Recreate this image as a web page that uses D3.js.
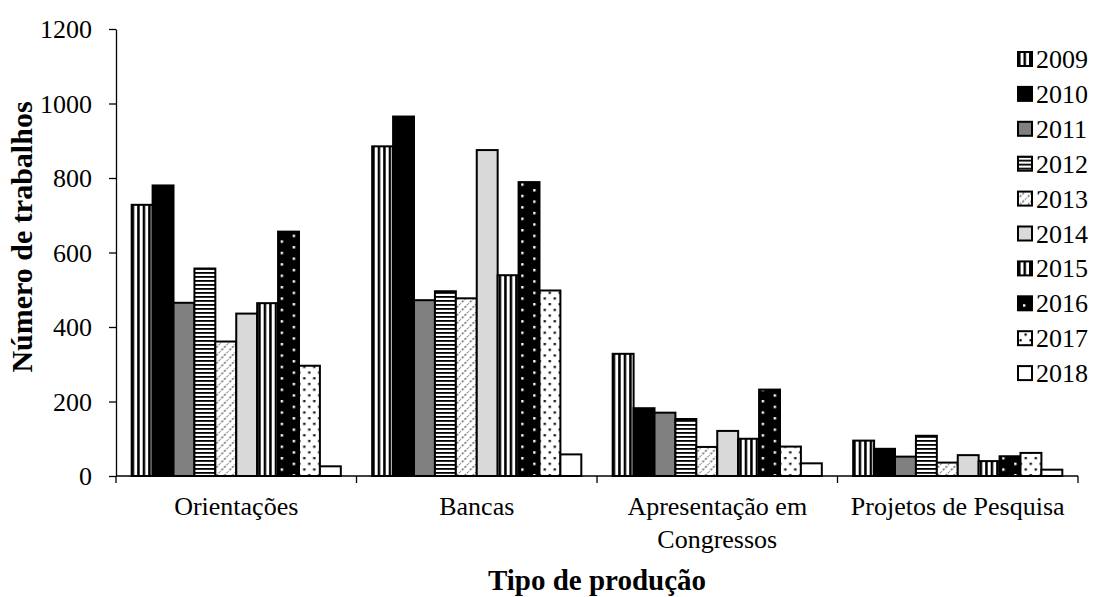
<!DOCTYPE html>
<html>
<head>
<meta charset="utf-8">
<script src="https://cdn.jsdelivr.net/npm/d3@7"></script>
<style>
  html, body { margin: 0; padding: 0; background: #fff; }
  svg { display: block; }
  text { font-family: "Liberation Serif", "Times New Roman", serif; fill: #000; }
</style>
</head>
<body>
<svg id="chart" width="1094" height="597"></svg>
<script>
// ---- data ----
const categories = ["Orientações", "Bancas", "Apresentação em Congressos", "Projetos de Pesquisa"];
const years = ["2009", "2010", "2011", "2012", "2013", "2014", "2015", "2016", "2017", "2018"];
const v2009 = [728, 885, 328, 95];
const v2010 = [780, 965, 182, 73];
const v2011 = [465, 472, 170, 52];
const v2012 = [557, 496, 153, 108];
const v2013 = [361, 477, 78, 36];
const v2014 = [436, 875, 121, 56];
const v2015 = [464, 539, 100, 40];
const v2016 = [656, 789, 232, 53];
const v2017 = [296, 498, 79, 62];
const v2018 = [26, 58, 34, 17];
const yTicks = [0, 200, 400, 600, 800, 1000, 1200];
const yTitle = "Número de trabalhos";
const xTitle = "Tipo de produção";

const seriesValues = [v2009, v2010, v2011, v2012, v2013, v2014, v2015, v2016, v2017, v2018];
const table = categories.map((c, ci) => {
  const row = { category: c };
  years.forEach((y, yi) => { row[y] = seriesValues[yi][ci]; });
  return row;
});

// ---- layout ----
const svg = d3.select("#chart");
const plot = { left: 116, right: 1078, top: 29, bottom: 476 };
const pad = 1.5 / 11.5;

const x0 = d3.scaleBand().domain(categories).range([plot.left, plot.right])
  .paddingInner(pad).paddingOuter(pad / 2);
const x1 = d3.scaleBand().domain(years).range([0, x0.bandwidth()]).padding(0);
const y = d3.scaleLinear().domain([0, 1200]).range([plot.bottom, plot.top]);

// ---- patterns ----
const defs = svg.append("defs");
function vstripe(id) {
  const p = defs.append("pattern").attr("id", id).attr("patternUnits", "userSpaceOnUse")
    .attr("width", 5.5).attr("height", 10);
  p.append("rect").attr("width", 5.5).attr("height", 10).attr("fill", "#fff");
  p.append("rect").attr("x", 0).attr("width", 2.5).attr("height", 10).attr("fill", "#000");
}
vstripe("p2009");
vstripe("p2015");
(function () {
  const p = defs.append("pattern").attr("id", "p2012").attr("patternUnits", "userSpaceOnUse")
    .attr("width", 10).attr("height", 4);
  p.append("rect").attr("width", 10).attr("height", 4).attr("fill", "#fff");
  p.append("rect").attr("y", 0).attr("width", 10).attr("height", 1.8).attr("fill", "#000");
})();
(function () {
  const p = defs.append("pattern").attr("id", "p2013").attr("patternUnits", "userSpaceOnUse")
    .attr("width", 8).attr("height", 8);
  p.append("rect").attr("width", 8).attr("height", 8).attr("fill", "#fff");
  p.append("path").attr("d", "M-1,9 L9,-1 M-5,5 L5,-5 M3,13 L13,3")
    .attr("stroke", "#7a7a7a").attr("stroke-width", 1.5).attr("stroke-dasharray", "2.4,1.4");
})();
(function () {
  const p = defs.append("pattern").attr("id", "p2016").attr("patternUnits", "userSpaceOnUse")
    .attr("width", 24).attr("height", 11.4);
  p.append("rect").attr("width", 24).attr("height", 11.4).attr("fill", "#000");
  p.append("rect").attr("x", 5).attr("y", 1).attr("width", 2.4).attr("height", 2.4).attr("fill", "#fff");
  p.append("rect").attr("x", 17).attr("y", 6.7).attr("width", 2.4).attr("height", 2.4).attr("fill", "#fff");
})();
(function () {
  const p = defs.append("pattern").attr("id", "p2017").attr("patternUnits", "userSpaceOnUse")
    .attr("width", 10).attr("height", 11.4);
  p.append("rect").attr("width", 10).attr("height", 11.4).attr("fill", "#fff");
  p.append("rect").attr("x", 1.5).attr("y", 1).attr("width", 2.2).attr("height", 2.2).attr("fill", "#000");
  p.append("rect").attr("x", 6.5).attr("y", 6.7).attr("width", 2.2).attr("height", 2.2).attr("fill", "#000");
})();

const fills = {
  "2009": "url(#p2009)", "2010": "#000", "2011": "#808080", "2012": "url(#p2012)",
  "2013": "url(#p2013)", "2014": "#d9d9d9", "2015": "url(#p2015)", "2016": "url(#p2016)",
  "2017": "url(#p2017)", "2018": "#fff"
};

// ---- bars ----
const groups = svg.append("g").selectAll("g").data(table).join("g")
  .attr("transform", d => `translate(${x0(d.category)},0)`);
groups.selectAll("rect").data(d => years.map(k => ({ key: k, value: d[k] }))).join("rect")
  .attr("x", d => x1(d.key))
  .attr("y", d => y(d.value))
  .attr("width", x1.bandwidth())
  .attr("height", d => y(0) - y(d.value))
  .attr("fill", d => fills[d.key])
  .attr("stroke", "#000").attr("stroke-width", 2);

// ---- y axis ----
const yAxis = svg.append("g").attr("transform", `translate(${plot.left},0)`)
  .call(d3.axisLeft(y).tickValues(yTicks).tickFormat(d3.format("d"))
    .tickSize(7).tickSizeOuter(0).tickPadding(17));
yAxis.attr("font-family", null).attr("font-size", null);
yAxis.select(".domain").attr("stroke", "#000").attr("stroke-width", 1.3);
yAxis.selectAll(".tick line").attr("stroke", "#000").attr("stroke-width", 1.3);
yAxis.selectAll(".tick text").style("font-size", "26px").attr("dy", "0.34em");

// ---- x axis ----
const xAxis = svg.append("g").attr("transform", `translate(0,${plot.bottom})`);
xAxis.append("line").attr("x1", plot.left).attr("x2", plot.right)
  .attr("stroke", "#000").attr("stroke-width", 1.3);
const step = x0.step();
const boundaries = categories.map(c => x0(c) - step * pad / 2).concat([x0(categories[categories.length - 1]) - step * pad / 2 + step]);
xAxis.selectAll("line.tk").data(boundaries).join("line").attr("class", "tk")
  .attr("x1", d => d).attr("x2", d => d).attr("y1", 0).attr("y2", 7)
  .attr("stroke", "#000").attr("stroke-width", 1.3);

const labels = xAxis.selectAll("text.cat").data(categories).join("text").attr("class", "cat")
  .attr("x", d => x0(d) + x0.bandwidth() / 2)
  .attr("y", 39)
  .attr("text-anchor", "middle")
  .style("font-size", "26px");
labels.each(function (d) {
  const t = d3.select(this);
  const words = d.split(" ");
  const maxW = step - 8;
  let line = [];
  let tspan = t.append("tspan").attr("x", x0(d) + x0.bandwidth() / 2).attr("dy", 0);
  words.forEach(w => {
    line.push(w);
    tspan.text(line.join(" "));
    if (tspan.node().getComputedTextLength() > maxW && line.length > 1) {
      line.pop();
      tspan.text(line.join(" "));
      line = [w];
      tspan = t.append("tspan").attr("x", x0(d) + x0.bandwidth() / 2).attr("dy", 33).text(w);
    }
  });
});

// ---- titles ----
svg.append("text")
  .attr("transform", `translate(32,237) rotate(-90)`)
  .attr("text-anchor", "middle")
  .style("font-size", "30px").style("font-weight", "bold")
  .text(yTitle);
svg.append("text")
  .attr("x", (plot.left + plot.right) / 2).attr("y", 590)
  .attr("text-anchor", "middle")
  .style("font-size", "29px").style("font-weight", "bold")
  .text(xTitle);

// ---- legend ----
const legend = svg.append("g").attr("transform", "translate(1018,59)");
const li = legend.selectAll("g").data(years).join("g")
  .attr("transform", (d, i) => `translate(0,${i * 34.9})`);
li.append("rect").attr("x", 0).attr("y", -7).attr("width", 14).attr("height", 14)
  .attr("fill", d => fills[d]).attr("stroke", "#000").attr("stroke-width", 2);
li.append("text").attr("x", 18).attr("y", 9).style("font-size", "26px").text(d => d);
</script>
</body>
</html>
